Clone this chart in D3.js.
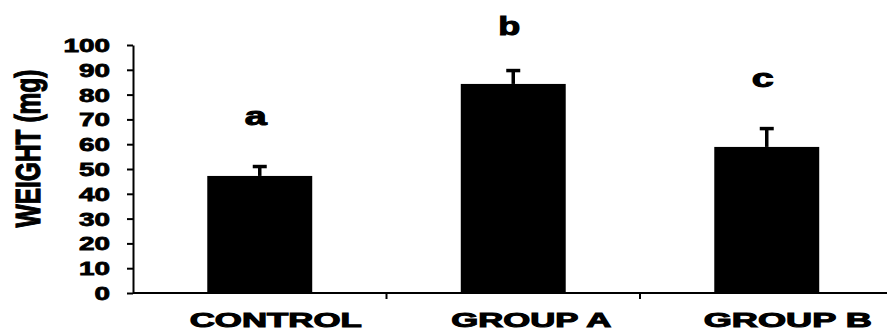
<!DOCTYPE html>
<html>
<head>
<meta charset="utf-8">
<script src="https://cdn.jsdelivr.net/npm/d3@7"></script>
<style>
  html, body { margin: 0; padding: 0; background: #fff; }
  svg { display: block; }
  text { font-family: "Liberation Sans", Arial, Helvetica, sans-serif; font-weight: bold; fill: #000; stroke: #000; }
</style>
</head>
<body>
<svg id="chart" width="887" height="332"></svg>
<script>
// ---- data ----
const categories = ["CONTROL", "GROUP A", "GROUP B"];
const means = [47.2, 84.3, 58.9];
const errors = [4.4, 6.0, 8.0];
const sigLetters = ["a", "b", "c"];
const yTicks = [0, 10, 20, 30, 40, 50, 60, 70, 80, 90, 100];
const yTitle = "WEIGHT (mg)";

// ---- layout ----
const svg = d3.select("#chart");
const x0 = 133, yBase = 293, yTop = 45;

const x = d3.scaleBand()
  .domain(categories)
  .range([x0, 893.5])
  .paddingInner(0.586)
  .paddingOuter(0.293);

const y = d3.scaleLinear().domain([0, 100]).range([yBase, yTop]);

const data = categories.map((c, i) => ({ cat: c, mean: means[i], err: errors[i], letter: sigLetters[i] }));

// bars
svg.append("g").selectAll("rect").data(data).join("rect")
  .attr("x", d => x(d.cat))
  .attr("y", d => y(d.mean))
  .attr("width", x.bandwidth())
  .attr("height", d => y(0) - y(d.mean))
  .attr("fill", "#000");

// error bars (upper only)
const eb = svg.append("g").selectAll("g").data(data).join("g");
eb.append("line")
  .attr("x1", d => x(d.cat) + x.bandwidth() / 2)
  .attr("x2", d => x(d.cat) + x.bandwidth() / 2)
  .attr("y1", d => y(d.mean))
  .attr("y2", d => y(d.mean + d.err))
  .attr("stroke", "#000").attr("stroke-width", 3.5);
eb.append("line")
  .attr("x1", d => x(d.cat) + x.bandwidth() / 2 - 7)
  .attr("x2", d => x(d.cat) + x.bandwidth() / 2 + 7)
  .attr("y1", d => y(d.mean + d.err) + 1.5)
  .attr("y2", d => y(d.mean + d.err) + 1.5)
  .attr("stroke", "#000").attr("stroke-width", 3.5);

// significance letters
svg.append("g").selectAll("text").data(data).join("text")
  .attr("x", d => x(d.cat) + x.bandwidth() / 2 - 4)
  .attr("y", d => y(d.mean + d.err) - (d.letter === "b" ? 34 : 40))
  .attr("text-anchor", "middle")
  .attr("font-size", 25)
  .attr("stroke-width", 1)
  .attr("textLength", 22)
  .attr("lengthAdjust", "spacingAndGlyphs")
  .text(d => d.letter);

// y axis
const yAxis = d3.axisLeft(y).tickValues(yTicks).tickSize(6).tickPadding(17).tickSizeOuter(0);
const gy = svg.append("g").attr("transform", `translate(${x0},0)`).call(yAxis);
gy.select(".domain").attr("stroke", "#000").attr("stroke-width", 2);
gy.selectAll(".tick line").attr("stroke", "#000").attr("stroke-width", 2);
gy.selectAll(".tick text")
  .attr("font-size", 18)
  .attr("font-family", "'Liberation Sans', Arial, sans-serif")
  .attr("font-weight", "bold")
  .attr("stroke", "#000")
  .attr("stroke-width", 0.8)
  .attr("dy", "0.36em")
  .attr("textLength", d => String(d).length * 15.5)
  .attr("lengthAdjust", "spacingAndGlyphs");

// x axis line
svg.append("line")
  .attr("x1", x0).attr("x2", 887)
  .attr("y1", yBase).attr("y2", yBase)
  .attr("stroke", "#000").attr("stroke-width", 2);

// x ticks between categories
const step = x.step();
svg.append("g").selectAll("line").data(categories.slice(1)).join("line")
  .attr("x1", c => x(c) - step * x.paddingInner() / 2)
  .attr("x2", c => x(c) - step * x.paddingInner() / 2)
  .attr("y1", yBase).attr("y2", yBase + 6)
  .attr("stroke", "#000").attr("stroke-width", 2);

// category labels
const labelLen = { "CONTROL": 172, "GROUP A": 160, "GROUP B": 168 };
const labelDx = { "CONTROL": 16, "GROUP A": 18, "GROUP B": 21 };
svg.append("g").selectAll("text").data(categories).join("text")
  .attr("x", c => x(c) + x.bandwidth() / 2 + labelDx[c])
  .attr("y", 327)
  .attr("text-anchor", "middle")
  .attr("font-size", 20)
  .attr("stroke-width", 1)
  .attr("textLength", c => labelLen[c])
  .attr("lengthAdjust", "spacingAndGlyphs")
  .text(c => c);

// y title
svg.append("text")
  .attr("transform", `translate(40,${(69 + 228) / 2}) rotate(-90)`)
  .attr("text-anchor", "middle")
  .attr("font-size", 35)
  .attr("stroke-width", 1.2)
  .attr("textLength", 158)
  .attr("lengthAdjust", "spacingAndGlyphs")
  .text(yTitle);
</script>
</body>
</html>
